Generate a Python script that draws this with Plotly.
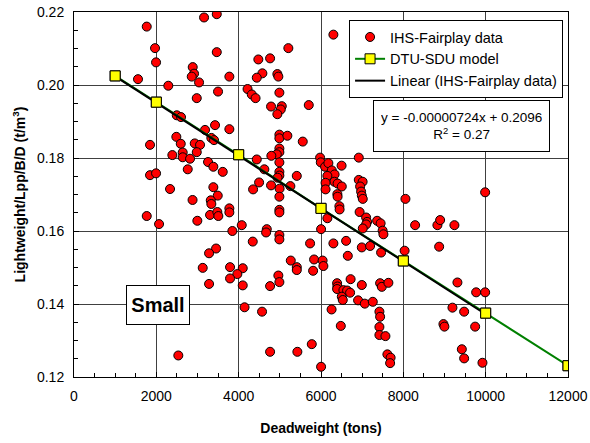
import plotly.graph_objects as go

# IHS-Fairplay data (deadweight [t], lightweight/Lpp/B/D [t/m3])
ihs_dwt = [
    1767, 3159, 3468, 1968, 1993, 3468, 2884, 2916, 2860, 3038,
    3774, 1555, 2291, 3499, 4216, 4318, 4410, 2982, 2496, 2600,
    3183, 3426, 3774, 3336, 3402, 2486, 1847, 2593, 2933, 3062,
    2982, 2389, 2641, 2641, 2819, 3256, 3385, 3613, 2763, 1847,
    1993, 2333, 3385, 4440, 3492, 4350, 4496, 2880, 3322, 3336,
    6301, 5207, 4478, 4763, 4576, 4440, 4940, 4964, 4989, 4787,
    5047, 5023, 4940, 5703, 4989, 4989, 5183, 5557, 4989, 4989,
    4926, 4794, 4989, 4624, 4989, 4989, 4945, 5412, 4787, 4994,
    5256, 4989,
    5978, 5995, 6099, 6179, 6262, 6330, 6155, 6325, 6111, 6403,
    6505, 6111, 6398, 6403, 6500, 6918, 6918, 7011, 6950, 6974,
    6991, 7015, 6447, 6452, 6938, 7096, 7120, 7096, 7015, 7363,
    7448, 7497, 7516, 6155, 6002, 8051, 8286, 5735, 6301, 6610,
    6991, 7193, 7460, 8031, 5832, 6039, 6058, 5808, 6651, 6719,
    6391, 6398, 6391, 6544, 6634, 6707, 6505, 6529, 6991, 7436,
    7477, 7637, 6901, 7064, 7258, 6257, 6481, 7419, 7436, 7419,
    7419, 7565, 7613, 7691, 7679, 6002,
    4989, 4989, 4075, 4683, 4666, 4989, 4989, 4342, 5266, 5412,
    5412, 4099, 4099, 4763, 4964, 4989, 4143, 4568, 4763, 5426,
    5776,
    9314, 9193, 8974, 8998, 9421, 9987, 8828, 8894, 9241, 8870,
    9769, 9987, 9477, 9744, 9477, 9922,
    1767, 2066, 3305, 3482, 3506, 2996, 3774, 3774, 3847, 3451,
    3281, 3127, 3791, 3968, 3791, 3281, 2534,
]
ihs_ratio = [
    0.2160, 0.2185, 0.2194, 0.2101, 0.2062, 0.2090, 0.2049, 0.2031, 0.2023, 0.2007,
    0.2023, 0.2016, 0.1998, 0.1982, 0.1989, 0.1974, 0.1964, 0.1964, 0.1917, 0.1912,
    0.1877, 0.1890, 0.1879, 0.1855, 0.1849, 0.1858, 0.1836, 0.1839, 0.1840, 0.1836,
    0.1816, 0.1808, 0.1815, 0.1802, 0.1798, 0.1789, 0.1776, 0.1762, 0.1769, 0.1753,
    0.1758, 0.1715, 0.1720, 0.1796, 0.1697, 0.1714, 0.1733, 0.1685, 0.1684, 0.1674,
    0.2138, 0.2101, 0.2070, 0.2073, 0.2032, 0.2020, 0.2030, 0.2023, 0.1979, 0.1941,
    0.1942, 0.1933, 0.1920, 0.1945, 0.1864, 0.1854, 0.1861, 0.1845, 0.1826, 0.1816,
    0.1810, 0.1806, 0.1788, 0.1769, 0.1762, 0.1752, 0.1746, 0.1751, 0.1725, 0.1716,
    0.1723, 0.1694,
    0.1801, 0.1788, 0.1776, 0.1786, 0.1766, 0.1755, 0.1751, 0.1735, 0.1732, 0.1730,
    0.1722, 0.1714, 0.1701, 0.1694, 0.1779, 0.1801, 0.1740, 0.1735, 0.1722, 0.1708,
    0.1697, 0.1688, 0.1668, 0.1659, 0.1652, 0.1637, 0.1625, 0.1618, 0.1607, 0.1628,
    0.1621, 0.1601, 0.1591, 0.1635, 0.1605, 0.1688, 0.1616, 0.1566, 0.1566, 0.1573,
    0.1555, 0.1559, 0.1541, 0.1546, 0.1522, 0.1519, 0.1504, 0.1491, 0.1532, 0.1468,
    0.1457, 0.1448, 0.1441, 0.1438, 0.1437, 0.1431, 0.1420, 0.1411, 0.1452, 0.1457,
    0.1447, 0.1458, 0.1410, 0.1401, 0.1406, 0.1385, 0.1340, 0.1379, 0.1365, 0.1337,
    0.1315, 0.1312, 0.1262, 0.1253, 0.1238, 0.1228,
    0.1658, 0.1651, 0.1616, 0.1605, 0.1596, 0.1589, 0.1577, 0.1571, 0.1519, 0.1501,
    0.1493, 0.1498, 0.1451, 0.1449, 0.1478, 0.1460, 0.1391, 0.1379, 0.1269, 0.1269,
    0.1290,
    0.1459, 0.1390, 0.1345, 0.1338, 0.1276, 0.1706, 0.1616, 0.1630, 0.1616, 0.1557,
    0.1432, 0.1432, 0.1379, 0.1338, 0.1251, 0.1239,
    0.1641, 0.1619, 0.1644, 0.1652, 0.1641, 0.1628, 0.1662, 0.1651, 0.1600, 0.1552,
    0.1539, 0.1499, 0.1501, 0.1482, 0.1470, 0.1455, 0.1259,
]

# DTU-SDU model
dtu_dwt = [1000, 2000, 4000, 6000, 8000, 10000, 12000]
dtu_ratio = [0.2025, 0.1953, 0.1809, 0.1662, 0.1518, 0.1375, 0.1231]

# Linear trendline of IHS-Fairplay data
trend_slope = -0.00000724
trend_intercept = 0.2096
trend_r2 = 0.27
trend_dwt = [1000, 10000]
trend_ratio = [trend_slope * x + trend_intercept for x in trend_dwt]

FONT = "Liberation Sans, Arial, sans-serif"

fig = go.Figure()
fig.add_trace(go.Scatter(
    x=ihs_dwt, y=ihs_ratio, mode="markers", name="IHS-Fairplay data",
    marker=dict(symbol="circle", size=9, color="#FF0000",
                line=dict(color="black", width=1)),
))
fig.add_trace(go.Scatter(
    x=dtu_dwt, y=dtu_ratio, mode="lines+markers", name="DTU-SDU model",
    line=dict(color="#008000", width=2),
    marker=dict(symbol="square", size=10, color="#FFFF00",
                line=dict(color="black", width=1)),
))
fig.add_trace(go.Scatter(
    x=trend_dwt, y=trend_ratio, mode="lines", name="Linear (IHS-Fairplay data)",
    line=dict(color="black", width=2),
))
fig.add_trace(go.Scatter(
    x=dtu_dwt, y=dtu_ratio, mode="markers", showlegend=False, hoverinfo="skip",
    marker=dict(symbol="square", size=10, color="#FFFF00",
                line=dict(color="black", width=1)),
))

axis_common = dict(
    showline=True, linecolor="black", linewidth=1, mirror=True,
    showgrid=True, gridcolor="#404040", gridwidth=1,
    ticks="inside", ticklen=5, tickcolor="black",
    zeroline=False, automargin=False,
    tickfont=dict(family=FONT, size=14, color="black"),
)

fig.update_xaxes(
    range=[0, 12000], dtick=2000, tick0=0, tickformat="d",
    minor=dict(dtick=500, ticks="inside", ticklen=4, tickcolor="black", showgrid=False),
    title=dict(text="<b>Deadweight (tons)</b>", font=dict(family=FONT, size=14, color="black"),
               standoff=20),
    ticklabelstandoff=6,
    **axis_common,
)
fig.update_yaxes(
    range=[0.12, 0.22], dtick=0.02, tick0=0.12, tickformat=".2f",
    minor=dict(dtick=0.005, ticks="inside", ticklen=4, tickcolor="black", showgrid=False),
    title=dict(text="<b>Lightweight/Lpp/B/D (t/m<sup>3</sup>)</b>",
               font=dict(family=FONT, size=14, color="black"), standoff=8),
    ticklabelstandoff=6,
    **axis_common,
)

fig.update_layout(
    width=590, height=443,
    margin=dict(l=74, r=22, t=12, b=66),
    paper_bgcolor="white", plot_bgcolor="white",
    font=dict(family=FONT, size=14, color="black"),
    showlegend=True,
    legend=dict(
        x=0.99, y=0.978, xanchor="right", yanchor="top",
        bgcolor="white", bordercolor="black", borderwidth=1,
        font=dict(family=FONT, size=14.5, color="black"),
        itemwidth=30, tracegroupgap=0,
    ),
    annotations=[
        dict(
            xref="paper", yref="paper", x=0.785, y=0.689,
            xanchor="center", yanchor="middle",
            text=f"y = {trend_slope:.8f}x + {trend_intercept}<br>R<sup>2</sup> = {trend_r2}",
            showarrow=False, align="center", height=36,
            font=dict(family=FONT, size=13.5, color="black"),
            bgcolor="white", bordercolor="black", borderwidth=1, borderpad=7,
        ),
        dict(
            xref="paper", yref="paper", x=0.1694, y=0.197,
            xanchor="center", yanchor="middle",
            text="<b>Small</b>", showarrow=False, width=56, height=32,
            font=dict(family=FONT, size=20, color="black"),
            bgcolor="white", bordercolor="black", borderwidth=1, borderpad=3,
        ),
    ],
)

fig.write_html("out.html")
